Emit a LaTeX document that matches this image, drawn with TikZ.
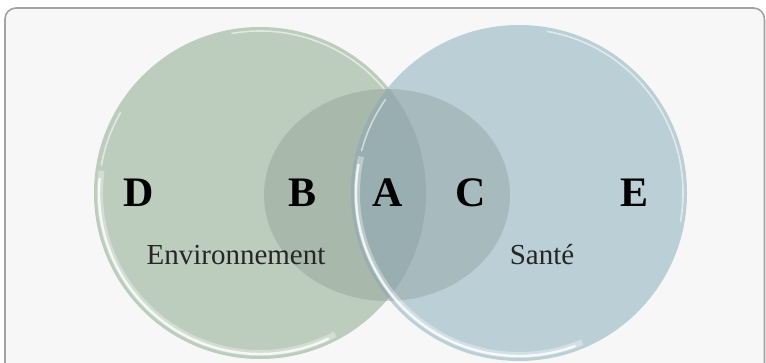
\documentclass[tikz,border=0pt]{standalone}
\usepackage{fontspec}
\setmainfont{Liberation Serif}
\begin{document}
\begin{tikzpicture}[x=1pt,y=1pt,
  letter/.style={anchor=base,font=\fontsize{42}{42}\selectfont\bfseries,text=black,inner sep=0pt},
  label/.style={anchor=base,font=\fontsize{29}{30}\selectfont,text=black!85,inner sep=0pt},
  rimwide/.style={white,line width=6pt,line cap=butt,opacity=0.35},
  rim/.style={white,line width=2.4pt,line cap=round,opacity=0.8},
  softrim/.style={white,line width=1.6pt,line cap=round,opacity=0.55}]
\definecolor{panel}{HTML}{F7F7F7}
\definecolor{panelline}{HTML}{A3A3A3}
\definecolor{envgreen}{HTML}{BCCCBD}
\definecolor{santeblue}{HTML}{B5CBD3}
\definecolor{coregray}{HTML}{6F7F78}
\definecolor{lensteal}{HTML}{4E7074}
\useasboundingbox (0,0) rectangle (766,363);
\clip (0,0) rectangle (766,363);
% panel
\fill[white] (0,0) rectangle (766,363);
\draw[panelline,line width=1.6pt,fill=panel,rounded corners=11pt] (5,-30) rectangle (764.5,355);
% centres
\coordinate (L) at (260,170);
\coordinate (R) at (519,170);
\coordinate (M) at (387,168);
% two sets
\fill[envgreen] (L) circle[radius=166];
\fill[santeblue,opacity=0.9] (R) circle[radius=168];
% shared core
\fill[coregray,opacity=0.25] (M) ellipse[x radius=123,y radius=106];
\begin{scope}
  \clip (L) circle[radius=166];
  \clip (R) circle[radius=168];
  \fill[lensteal,opacity=0.12] (M) ellipse[x radius=123,y radius=106];
\end{scope}
% glossy rims, left set
\draw[rimwide] (L) ++(172:160) arc[start angle=172,end angle=298,radius=160];
\draw[rim] (L) ++(175:161) arc[start angle=175,end angle=295,radius=161];
\draw[softrim] (L) ++(150:161) arc[start angle=150,end angle=170,radius=161];
\draw[softrim] (L) ++(40:162) arc[start angle=40,end angle=100,radius=162];
% glossy rims, right set
\draw[rimwide] (R) ++(167:162) arc[start angle=167,end angle=293,radius=162];
\draw[rim] (R) ++(170:163) arc[start angle=170,end angle=290,radius=163];
\draw[softrim] (R) ++(145:163) arc[start angle=145,end angle=165,radius=163];
\draw[softrim] (R) ++(-10:164) arc[start angle=-10,end angle=80,radius=164];
% letters
\node[letter] (d) at (139,156) {D};
\node[letter] (b) at (303,156) {B};
\node[letter] (a) at (388,156) {A};
\node[letter] (c) at (471,156) {C};
\node[letter] (e) at (635,156) {E};
% set names
\node[label] (env) at (236,98) {Environnement};
\node[label] (sante) at (542,98) {Santé};
\end{tikzpicture}
\end{document}
